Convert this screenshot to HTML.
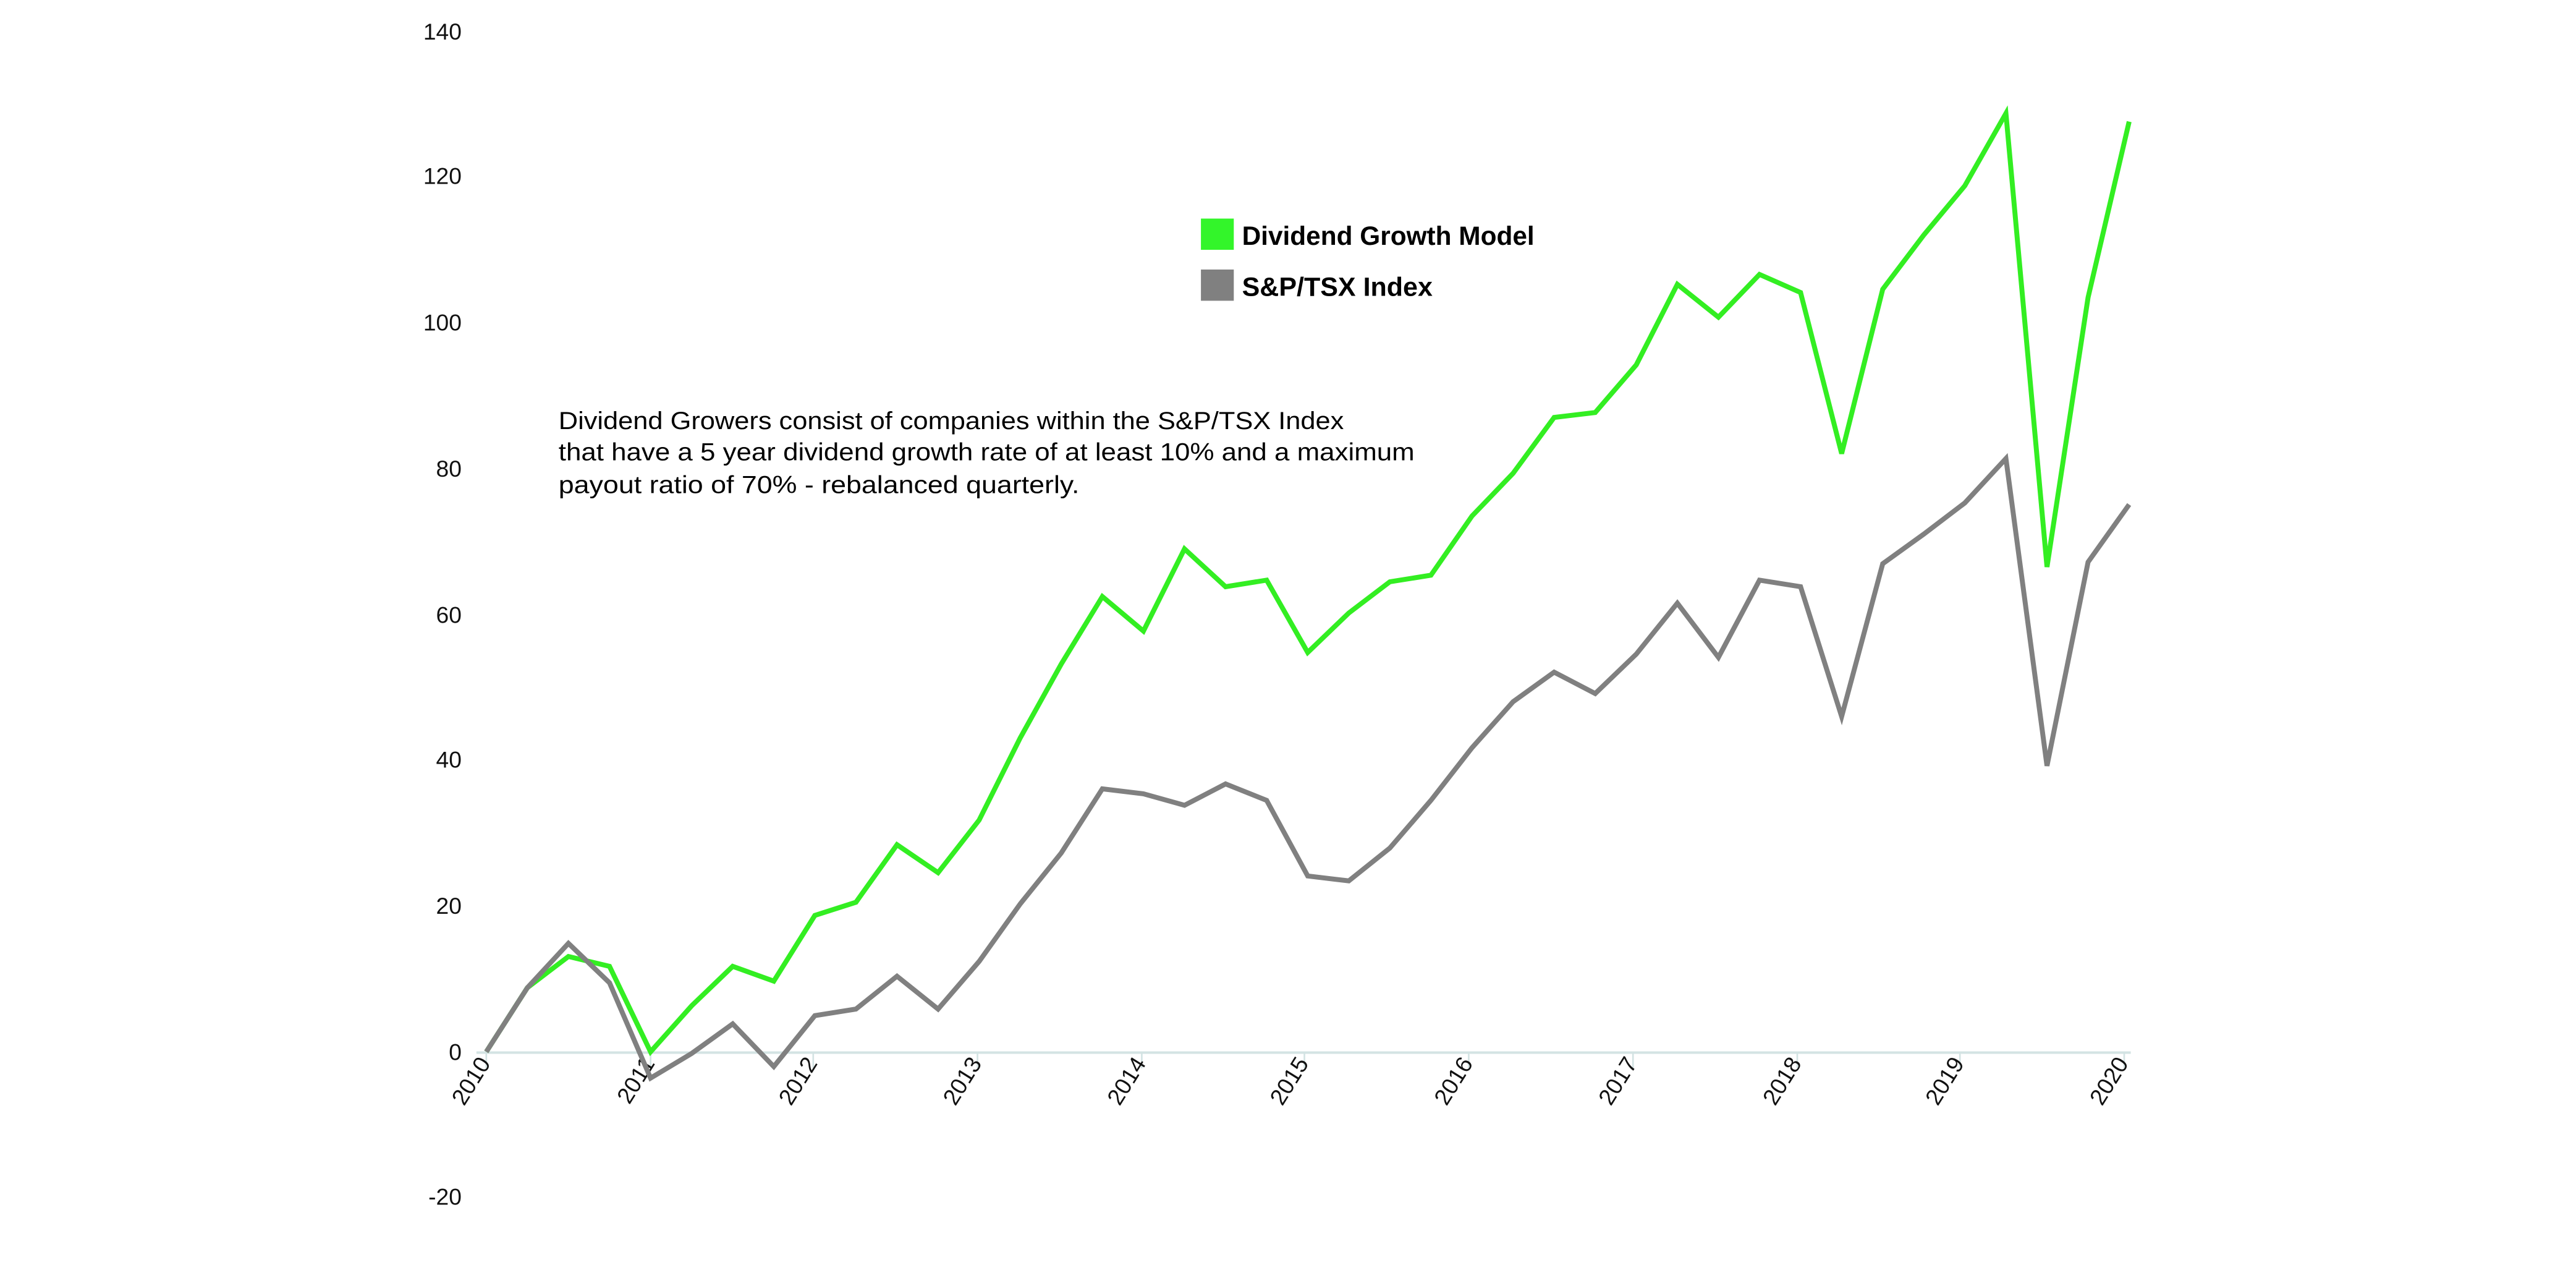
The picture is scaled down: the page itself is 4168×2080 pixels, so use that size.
<!DOCTYPE html>
<html><head><meta charset="utf-8"><style>html,body{margin:0;padding:0;background:#fff}svg{display:block}</style></head>
<body>
<svg width="4168" height="2080" viewBox="0 0 1568 782.5" preserveAspectRatio="none" xmlns="http://www.w3.org/2000/svg" font-family="Liberation Sans, sans-serif">
<rect width="1568" height="782.5" fill="#fff"/>
<g font-size="14" fill="#111" text-anchor="end">
<text x="281" y="24">140</text><text x="281" y="112">120</text><text x="281" y="201">100</text>
<text x="281" y="290">80</text><text x="281" y="379">60</text><text x="281" y="467">40</text>
<text x="281" y="556">20</text><text x="281" y="645">0</text><text x="281" y="733">-20</text>
</g>
<line x1="290" y1="640.5" x2="1297" y2="640.5" stroke="#d3e3e3" stroke-width="1.5"/>
<g stroke="#d3e3e3" stroke-width="1">
<line x1="296" y1="640" x2="296" y2="650"/><line x1="396" y1="640" x2="396" y2="650"/><line x1="495" y1="640" x2="495" y2="650"/><line x1="595" y1="640" x2="595" y2="650"/><line x1="695" y1="640" x2="695" y2="650"/><line x1="794" y1="640" x2="794" y2="650"/><line x1="894" y1="640" x2="894" y2="650"/><line x1="994" y1="640" x2="994" y2="650"/><line x1="1094" y1="640" x2="1094" y2="650"/><line x1="1193" y1="640" x2="1193" y2="650"/><line x1="1293" y1="640" x2="1293" y2="650"/>
</g>
<g font-size="14" fill="#111" text-anchor="end">
<text transform="translate(299,647) rotate(-58)">2010</text>
<text transform="translate(399,647) rotate(-58)">2011</text>
<text transform="translate(498,647) rotate(-58)">2012</text>
<text transform="translate(598,647) rotate(-58)">2013</text>
<text transform="translate(698,647) rotate(-58)">2014</text>
<text transform="translate(797,647) rotate(-58)">2015</text>
<text transform="translate(897,647) rotate(-58)">2016</text>
<text transform="translate(997,647) rotate(-58)">2017</text>
<text transform="translate(1097,647) rotate(-58)">2018</text>
<text transform="translate(1196,647) rotate(-58)">2019</text>
<text transform="translate(1296,647) rotate(-58)">2020</text>
</g>
<polyline fill="none" stroke="#33ee22" stroke-width="3" stroke-linejoin="miter" points="296,640 321,601 346,582 371,588 396,640 421,612 446,588 471,597 496,557 521,549 546,514 571,531 596,499 621,449 646,404 671,363 696,384 721,334 746,357 771,353 796,397 821,373 846,354 871,350 896,314 921,288 946,254 971,251 996,222 1021,173 1046,193 1071,167 1096,178 1121,276 1146,176 1171,143 1196,113 1221,69 1246,345 1271,181 1296,74"/>
<polyline fill="none" stroke="#808080" stroke-width="3" stroke-linejoin="miter" points="296,640 321,601 346,574 371,598 396,656 421,641 446,623 471,649 496,618 521,614 546,594 571,614 596,585 621,550 646,519 671,480 696,483 721,490 746,477 771,487 796,533 821,536 846,516 871,487 896,455 921,427 946,409 971,422 996,398 1021,367 1046,400 1071,353 1096,357 1121,436 1146,343 1171,325 1196,306 1221,279 1246,466 1271,342 1296,307"/>
<rect x="731" y="133" width="20" height="19" fill="#33f52a"/>
<rect x="731" y="164" width="20" height="19" fill="#808080"/>
<g font-size="16" font-weight="bold" fill="#000">
<text x="756" y="149" textLength="178" lengthAdjust="spacingAndGlyphs">Dividend Growth Model</text>
<text x="756" y="180" textLength="116" lengthAdjust="spacingAndGlyphs">S&amp;P/TSX Index</text>
</g>
<g font-size="15" fill="#000">
<text x="340" y="261" textLength="478" lengthAdjust="spacingAndGlyphs">Dividend Growers consist of companies within the S&amp;P/TSX Index</text>
<text x="340" y="280" textLength="521" lengthAdjust="spacingAndGlyphs">that have a 5 year dividend growth rate of at least 10% and a maximum</text>
<text x="340" y="300" textLength="317" lengthAdjust="spacingAndGlyphs">payout ratio of 70% -  rebalanced quarterly.</text>
</g>
</svg>
</body></html>
